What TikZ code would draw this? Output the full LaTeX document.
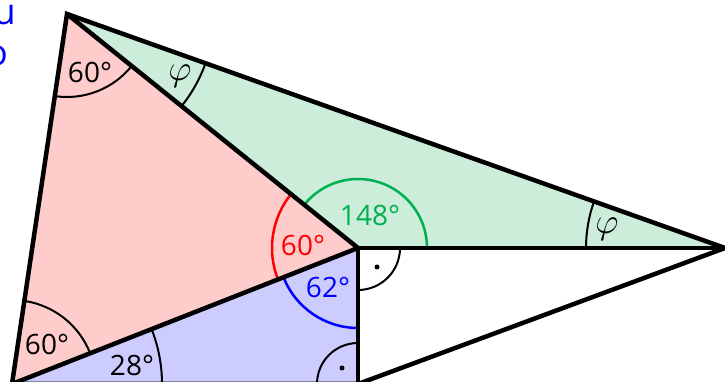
\documentclass[tikz,border=0pt]{standalone}
\usepackage{fix-cm}
\usepackage{fontspec}
\setmainfont{Open Sans}
\usepackage{tikz}
\usetikzlibrary{angles}

\definecolor{rosa}{RGB}{255,204,204}
\definecolor{menta}{RGB}{204,237,218}
\definecolor{lilas}{RGB}{204,204,255}
\definecolor{verde}{RGB}{0,176,80}

\begin{document}
\begin{tikzpicture}[
    x=1pt, y=1pt,
    font=\fontsize{28}{32}\selectfont,
    lado/.style={line width=4.5pt},
    arco/.style={draw, line width=2pt},
    arcocor/.style={draw=#1, line width=2.5pt},
    rotulo/.style={inner sep=0pt},
    letra/.style={inner sep=0pt, font=\fontsize{36}{40}\selectfont},
    ponto/.style={circle, fill, inner sep=0pt, minimum size=5pt}
]
\path[use as bounding box] (0,0) rectangle (725,382);
\clip (0,0) rectangle (725,382);

\coordinate (A) at (67,368);
\coordinate (M) at (358,134);
\coordinate (B) at (12,-2);
\coordinate (P) at (358,-2);
\coordinate (R) at (725,134);

% regioes
\fill[rosa] (A) -- (M) -- (B) -- cycle;
\fill[menta] (A) -- (R) -- (M) -- cycle;
\fill[lilas] (M) -- (B) -- (P) -- cycle;

% angulos
\pic[arco, angle radius=83pt] {angle=B--A--M};
\pic[arco, angle radius=147pt] {angle=M--A--R};
\pic[arco, angle radius=139pt] {angle=A--R--M};
\pic[arco, angle radius=84pt] {angle=M--B--A};
\pic[arco, angle radius=150pt] {angle=P--B--M};
\pic[arco, angle radius=42pt] {angle=P--M--R};
\pic[arco, angle radius=41pt] {angle=M--P--B};
\pic[arcocor=verde, angle radius=69pt] {angle=R--M--A};
\pic[arcocor=red, angle radius=86pt] {angle=A--M--B};
\pic[arcocor=blue, angle radius=80pt] {angle=B--M--P};

% lados
\draw[lado] (B) -- (A) -- (R) -- (P) -- cycle;
\draw[lado] (A) -- (M) -- (B);
\draw[lado] (M) -- (R);
\draw[lado] (M) -- (P);

\node[ponto] (dM) at (377,115) {};
\node[ponto] (dP) at (342,14) {};

% rotulos
\node[rotulo] (wA) at (90,310) {60°};
\node[letra] (phiA) at (180,306) {$\varphi$};
\node[rotulo] (wB) at (47,38) {60°};
\node[rotulo] (wB2) at (132,16) {28°};
\node[rotulo, text=red] (wM1) at (303,137) {60°};
\node[rotulo, text=verde] (wM2) at (370,166) {148°};
\node[rotulo, text=blue] (wM3) at (328,94) {62°};
\node[letra] (phiR) at (607,153) {$\varphi$};

\node[rotulo, anchor=east, text=blue, font=\fontsize{36}{40}\selectfont] (tu) at (16,367) {u};
\node[rotulo, anchor=east, text=blue, font=\fontsize{36}{40}\selectfont] (to) at (8,326) {o};

\end{tikzpicture}
\end{document}
